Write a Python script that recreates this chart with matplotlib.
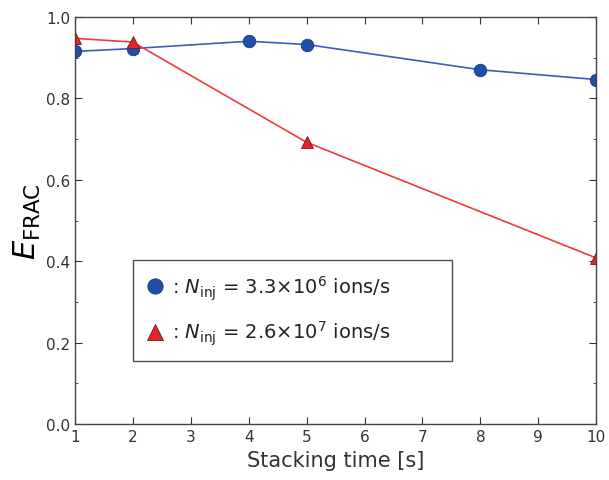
import matplotlib.pyplot as plt
from matplotlib.ticker import MultipleLocator
from matplotlib.lines import Line2D

t_low = [1, 2, 4, 5, 8, 10]
e_low = [0.915, 0.922, 0.940, 0.932, 0.870, 0.846]
t_high = [1, 2, 5, 10]
e_high = [0.947, 0.938, 0.692, 0.408]

lab_low = r': $N_{\rm inj}$ = 3.3×10$^{6}$ ions/s'
lab_high = r': $N_{\rm inj}$ = 2.6×10$^{7}$ ions/s'

blue = '#1d4fa6'
red = '#e3242b'
grey = '#333333'

fig = plt.figure(figsize=(6.09, 4.81), dpi=100)
ax = fig.add_axes([0.123, 0.116, 0.856, 0.847])

ax.plot(t_low, e_low, color='#3d5cc0', lw=1.2, marker='o', ms=9,
        mfc=blue, mec='#1a3a80', mew=0.6)
ax.plot(t_high, e_high, color='#f03a40', lw=1.2, marker='^', ms=9,
        mfc=red, mec='#7a1a1a', mew=0.6)

ax.set_xlim(1, 10)
ax.set_ylim(0, 1.0)
ax.xaxis.set_major_locator(MultipleLocator(1))
ax.yaxis.set_major_locator(MultipleLocator(0.2))
ax.yaxis.set_minor_locator(MultipleLocator(0.1))
ax.tick_params(which='both', direction='in', top=True, right=True,
               labelsize=11, colors=grey, labelcolor=grey)
ax.tick_params(which='major', length=5, width=0.8)
ax.tick_params(which='minor', length=2.5, width=0.6)
for s in ax.spines.values():
    s.set_color('#444444')
    s.set_linewidth(1.0)

ax.set_xlabel('Stacking time [s]', fontsize=15, color=grey, labelpad=4)
ax.set_ylabel(r'$E_{\rm FRAC}$', fontsize=22, color='black', labelpad=2)

handles = [
    Line2D([], [], ls='none', marker='o', ms=11, mfc=blue, mec='#1a3a80', mew=0.6),
    Line2D([], [], ls='none', marker='^', ms=11, mfc=red, mec='#7a1a1a', mew=0.6),
]
leg = ax.legend(handles, [lab_low, lab_high], loc='lower left',
                bbox_to_anchor=(0.112, 0.155, 0.612, 0.231), mode='expand',
                fontsize=14, fancybox=False, frameon=True, handlelength=0.8,
                handletextpad=0.5, borderpad=0.7, labelspacing=0.9,
                borderaxespad=0)
leg.get_frame().set_edgecolor('#222222')
leg.get_frame().set_linewidth(1.0)
for txt in leg.get_texts():
    txt.set_color('#222222')

fig.savefig('out.png', dpi=100)
